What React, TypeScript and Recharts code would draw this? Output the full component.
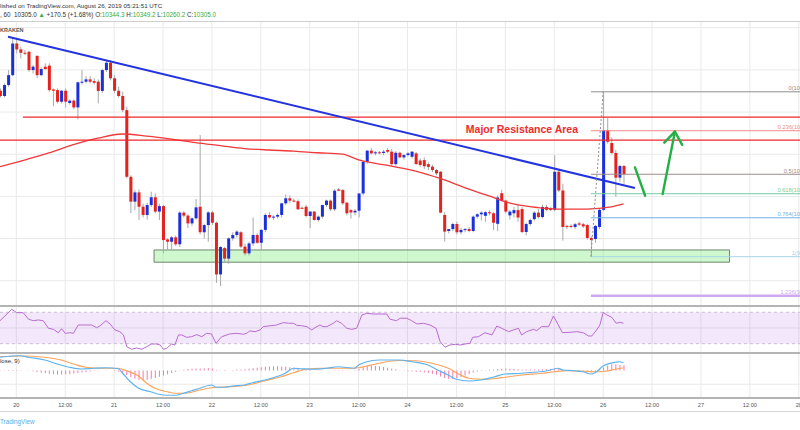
import {
  Bar,
  CartesianGrid,
  ComposedChart,
  Line,
  ReferenceArea,
  ReferenceDot,
  ReferenceLine,
  XAxis,
  YAxis,
} from 'recharts'

// hourly candles, first one is Aug 19 20:00 UTC (hour -4 from Aug 20 00:00)
const FIRST_HOUR = -4

const OPEN = [
  10701, 10676, 10728, 10775, 10925, 10897, 10881, 10886, 10799, 10866,
  10775, 10815, 10820, 10707, 10704, 10649, 10701, 10643, 10654, 10622,
  10741, 10744, 10755, 10747, 10744, 10700, 10799, 10834, 10760, 10701,
  10676, 10609, 10293, 10175, 10219, 10151, 10112, 10159, 10196, 10128,
  10154, 9996, 9985, 10006, 9973, 10123, 10109, 10072, 10096, 10151,
  10030, 10064, 10124, 10075, 9830, 9955, 9905, 10001, 10017, 10030,
  9962, 9930, 9977, 10017, 9980, 10041, 10112, 10100, 10104, 10112,
  10167, 10191, 10180, 10177, 10146, 10151, 10107, 10128, 10088, 10104,
  10159, 10180, 10139, 10233, 10230, 10170, 10135, 10124, 10132, 10214,
  10364, 10417, 10404, 10409, 10406, 10420, 10412, 10353, 10407, 10385,
  10396, 10388, 10404, 10370, 10372, 10353, 10341, 10325, 10317, 10112,
  10036, 10045, 10069, 10030, 10041, 10045, 10036, 10104, 10115, 10108,
  10125, 10120, 10070, 10215, 10180, 10110, 10120, 10135, 10140, 10031,
  10069, 10092, 10123, 10102, 10150, 10140, 10136, 10317, 10228, 10060,
  10060, 10055, 10072, 10068, 10064, 10003, 9998, 10055, 10136, 10514,
  10453, 10406, 10289, 10344.3,
]
const HIGH = [
  10712, 10736, 10799, 10949, 10949, 10910, 10894, 10889, 10823, 10870,
  10812, 10831, 10831, 10712, 10712, 10704, 10712, 10660, 10660, 10744,
  10799, 10770, 10770, 10760, 10755, 10805, 10846, 10846, 10775, 10720,
  10696, 10625, 10300, 10230, 10233, 10165, 10170, 10222, 10214, 10165,
  10160, 10001, 10012, 10015, 10130, 10130, 10115, 10100, 10188, 10491,
  10070, 10130, 10130, 10080, 9965, 9960, 10006, 10030, 10040, 10035,
  9975, 9985, 10100, 10025, 10045, 10120, 10125, 10110, 10120, 10170,
  10210, 10205, 10190, 10185, 10152, 10160, 10130, 10130, 10110, 10160,
  10185, 10185, 10235, 10240, 10235, 10175, 10140, 10140, 10215, 10370,
  10420, 10430, 10415, 10415, 10420, 10430, 10425, 10415, 10412, 10400,
  10410, 10415, 10410, 10380, 10385, 10362, 10350, 10330, 10320, 10125,
  10045, 10075, 10080, 10050, 10050, 10055, 10110, 10120, 10130, 10130,
  10135, 10125, 10205, 10232, 10185, 10135, 10150, 10165, 10150, 10075,
  10095, 10130, 10140, 10160, 10160, 10150, 10395, 10325, 10260, 10065,
  10068, 10075, 10080, 10075, 10070, 10010, 10065, 10145, 10696, 10571,
  10480, 10420, 10350, 10349.2,
]
const LOW = [
  10669, 10669, 10720, 10770, 10878, 10854, 10870, 10791, 10783, 10760,
  10770, 10800, 10696, 10628, 10641, 10641, 10622, 10635, 10613, 10565,
  10730, 10736, 10736, 10730, 10641, 10690, 10790, 10750, 10690, 10669,
  10600, 10285, 10120, 10135, 10088, 10100, 10090, 10150, 10120, 10088,
  9930, 9946, 9950, 9965, 9960, 10100, 10050, 10060, 10090, 10020,
  10000, 9985, 10065, 9790, 9775, 9890, 9880, 9990, 10005, 9955,
  9920, 9920, 9965, 9975, 9945, 10030, 10095, 10090, 10095, 10100,
  10160, 10170, 10172, 10135, 10140, 10100, 10050, 10085, 10080, 10095,
  10150, 10130, 10130, 10225, 10160, 10110, 10095, 10110, 10100, 10205,
  10355, 10400, 10395, 10400, 10395, 10405, 10345, 10345, 10380, 10375,
  10390, 10380, 10350, 10340, 10330, 10325, 10315, 10300, 10120, 9985,
  10025, 10035, 10020, 10020, 10030, 10030, 10030, 10095, 10085, 10080,
  10110, 10040, 10035, 10175, 10120, 10090, 10100, 10080, 10025, 10015,
  10060, 10085, 10095, 10095, 10130, 10130, 10130, 10220, 9990, 10045,
  10048, 10045, 10060, 10050, 9995, 9914, 9980, 10045, 10130, 10450,
  10400, 10199, 10270, 10260.2,
]
const CLOSE = [
  10676, 10728, 10775, 10925, 10897, 10881, 10878, 10799, 10815, 10775,
  10804, 10804, 10704, 10701, 10649, 10701, 10649, 10654, 10622, 10741,
  10744, 10755, 10744, 10739, 10700, 10799, 10834, 10760, 10701, 10676,
  10609, 10293, 10175, 10219, 10151, 10112, 10159, 10196, 10128, 10154,
  9993, 9985, 10006, 9973, 10123, 10109, 10072, 10096, 10148, 10030,
  10064, 10124, 10075, 9830, 9960, 9905, 10001, 10017, 10033, 9962,
  9930, 9977, 10017, 9980, 10041, 10112, 10100, 10104, 10112, 10167,
  10191, 10180, 10177, 10139, 10143, 10107, 10128, 10088, 10104, 10159,
  10180, 10139, 10227, 10227, 10167, 10120, 10124, 10132, 10214, 10364,
  10417, 10404, 10409, 10406, 10412, 10412, 10353, 10407, 10385, 10396,
  10404, 10412, 10353, 10349, 10343, 10340, 10325, 10309, 10123, 10033,
  10045, 10069, 10030, 10041, 10045, 10036, 10104, 10115, 10123, 10125,
  10120, 10075, 10195, 10180, 10128, 10128, 10135, 10100, 10031, 10069,
  10088, 10123, 10102, 10150, 10136, 10136, 10317, 10228, 10055, 10055,
  10055, 10068, 10066, 10058, 10003, 9993, 10060, 10136, 10514, 10459,
  10406, 10289, 10344, 10305,
]

// 100-period moving average, read at a few hours
const MA_POINTS: [number, number][] = [
  [-4, 10341], [2, 10372], [8, 10406], [14, 10445], [20, 10476], [26, 10496],
  [32, 10486], [38, 10472], [44, 10455], [50, 10441], [56, 10427], [62, 10420],
  [68, 10415], [74, 10407], [80, 10400], [84, 10373], [92, 10344], [98, 10320],
  [104, 10285], [110, 10242], [116, 10202], [122, 10164], [128, 10147],
  [134, 10140], [140, 10140], [146, 10150], [149, 10164],
]

const RSI_POINTS: [number, number][] = [
  [-4, 59.3], [-1.1, 73.8], [0.1, 69.5], [1.7, 69.5], [3, 61.1], [4.2, 59.3],
  [5.4, 60.2], [6.6, 59.3], [7.9, 49.6], [9.1, 48.3], [10.3, 44], [11.1, 49.1],
  [12, 43.2], [13.2, 44], [14, 43.2], [15.2, 53.8], [16.9, 53.8], [18.5, 53.8],
  [19.7, 50.4], [20.5, 52.5], [22, 59.3], [23, 55.1], [24.2, 47.5], [25.4, 45.3],
  [26.3, 41.1], [27.1, 26.2], [28.3, 22.9], [29.5, 24.5], [30.8, 22.9], [32, 26.2],
  [33.2, 29.6], [34.4, 29.6], [35.3, 28.3], [36.1, 22.9], [36.9, 24.1], [38.1, 29.6],
  [38.9, 28.3], [39.8, 41.1], [40.6, 41.1], [41.8, 38.1], [43, 38.9], [44.3, 41.5],
  [45.5, 38.9], [46.7, 43.2], [47.9, 42.4], [49, 30.5], [50.4, 38.9], [52.4, 42.4],
  [54.1, 43.2], [55.7, 42], [56.5, 43.2], [57.3, 46.2], [58.6, 45.3], [59.8, 47.5],
  [60.6, 51.7], [61.8, 52.5], [63.9, 53.8], [65.5, 56.8], [66.8, 56], [68, 56],
  [68.8, 53.4], [70, 52.9], [71.3, 51.7], [72.5, 47.5], [73.3, 50.4], [74.5, 53.8],
  [75.3, 51.7], [76.2, 51.7], [77.8, 56], [78.6, 59.3], [79.8, 56], [81.1, 49.6],
  [82.3, 48.3], [83.5, 49.6], [84.8, 66.6], [86, 68.7], [87.6, 67.8], [89.3, 67.8],
  [90.9, 67.8], [91.7, 61.1], [93.3, 59.3], [94.2, 62.4], [95.8, 62.4], [97, 59.3],
  [98.3, 55.1], [99.9, 56], [101.5, 53.8], [103, 49.6], [104, 32.6], [105.2, 25.4],
  [106.4, 28.3], [107.7, 29.2], [108.9, 28.3], [110.1, 29.6], [111.3, 30.5], [112, 38.1],
  [113.4, 38.9], [115, 44], [116.7, 41.1], [117.9, 52.5], [119.1, 49.6], [120.8, 45.3],
  [122, 47.5], [123.2, 49.6], [124, 41.1], [125.2, 45.3], [126.9, 48.3], [127.7, 46.6],
  [128.9, 51.7], [130.6, 51.7], [131.8, 65.3], [133, 53.8], [134, 44], [135.9, 44.5],
  [137.5, 45.3], [139.1, 44], [140.4, 39.8], [141.2, 39.8], [142.4, 47.5], [143.2, 53.8],
  [144, 70], [144.9, 66.6], [146.1, 63.7], [147.2, 56], [148.2, 57.3], [149, 56],
]

const MACD_POINTS: [number, number][] = [
  [-4, 53], [-1, 58], [1, 59], [3, 53], [7, 42], [10, 26], [13, 13], [16, 6], [19, 9],
  [22, 11], [25, 7], [26, -9], [28, -45], [30, -71], [33, -85], [35, -95], [37, -99],
  [39, -99], [41, -91], [43, -81], [45, -71], [48, -58], [49, -67], [51, -67], [53, -62],
  [56, -58], [58, -49], [61, -38], [63, -29], [66, -11], [68, 9], [70, 7], [73, 5],
  [76, 9], [79, 15], [83, 9], [84, 22], [86, 35], [89, 42], [94, 42], [97, 35],
  [101, 22], [103, 5], [106, -18], [108, -35], [111, -42], [114, -38], [117, -27],
  [120, -14], [124, -11], [127, -7], [130, -2], [133, 9], [134, 2], [137, -1],
  [139, -5], [141, -14], [142, -9], [144, 18], [147, 33], [148, 35], [149, 31],
]
const SIGNAL_POINTS: [number, number][] = [
  [-4, 55], [1, 58], [7, 53], [11, 42], [14, 26], [17, 13], [21, 9], [25, 9], [27, -1],
  [30, -22], [32, -51], [34, -71], [37, -85], [39, -91], [42, -90], [45, -78], [48, -69],
  [52, -65], [55, -62], [58, -54], [61, -41], [65, -25], [68, -9], [71, 5], [75, 9],
  [78, 9], [81, 9], [84, 11], [86, 18], [89, 29], [94, 40], [98, 39], [102, 29],
  [106, 9], [109, -18], [111, -31], [114, -35], [117, -33], [120, -27], [124, -18],
  [129, -11], [132, -5], [135, -1], [138, -2], [142, -5], [144, -4], [147, 5], [149, 11],
]
const HIST = [
  1, 1, 2, 2, 2, 1, 0, -1, -3, -6,
  -9, -11, -13, -15, -16, -16, -15, -14, -12, -10,
  -8, -6, -4, -2, -1, 0, 1, 0, -2, -5,
  -10, -18, -26, -33, -38, -40, -37, -34, -30, -25,
  -20, -15, -10, -5, -1, 3, 6, 7, 8, 8,
  9, 10, 8, 2, -1, -2, 0, 2, 4, 4,
  5, 7, 9, 11, 13, 15, 16, 17, 17, 16,
  15, 13, 11, 9, 7, 5, 2, 0, -1, -1,
  0, 1, 2, 2, 2, 1, 0, 2, 6, 12,
  18, 20, 19, 17, 14, 11, 8, 5, 1, -1,
  -3, -4, -5, -6, -8, -10, -13, -17, -24, -30,
  -34, -34, -31, -26, -20, -14, -8, -4, -2, 1,
  3, 4, 6, 7, 8, 7, 6, 5, 4, 4,
  4, 4, 4, 5, 5, 6, 9, 8, 4, 2,
  0, -1, -2, -3, -5, -7, -5, 2, 12, 20,
  25, 24, 22, 21,
]

const HOUR_TICKS = [0, 12, 24, 36, 48, 60, 72, 84, 96, 108, 120, 132, 144, 156, 168, 180, 192]
const TICK_LABELS = ['20', '12:00', '21', '12:00', '22', '12:00', '23', '12:00', '24', '12:00',
  '25', '12:00', '26', '12:00', '27', '12:00', '28']
const PRICE_GRID = [9700, 9800, 9900, 10000, 10100, 10200, 10300, 10400, 10500, 10600,
  10700, 10800, 10900, 11000]

// drawings
const TREND_LINE: [number, number][] = [[-2.04, 10957], [151.8, 10240]]
const RESISTANCE_LINES: [number, number][] = [[1.6, 10576], [-4, 10467]] // [start hour, price]
const SUPPORT_ZONE = { x1: 33.8, x2: 175, y1: 9888, y2: 9946 }
const FIB_RATIOS = [0, 0.236, 0.5, 0.618, 0.764, 1, 1.236]
const FIB_PRICES = [10696.0, 10511.4, 10305.0, 10212.7, 10098.6, 9914.0, 9729.4]
const FIB_COLORS = ['#8e8e8e', '#f08a8a', '#a08c8c', '#72cfa2', '#6fb4e6', '#a6d3ea', '#cfa9f0']
const FIB_LINK: [number, number][] = [[141, 9914], [144, 10696]]
const ARROWS: [number, number][][] = [
  [[151.8, 10338], [154.3, 10203]],
  [[158.6, 10211], [161.6, 10507]],
  [[159.0, 10455], [161.6, 10507]],
  [[163.4, 10444], [161.6, 10507]],
]

const X_DOMAIN: [number, number] = [-4, 192.3]
const RED = '#e5221c'
const BLUE = '#1b30dc'
const GRID = '#e9e9e9'
const FONT = '"Liberation Sans", Arial, sans-serif'

const maByHour = new Map(MA_POINTS)
const macdByHour = new Map(MACD_POINTS)
const signalByHour = new Map(SIGNAL_POINTS)

const candleRows = OPEN.map((open, i) => {
  const h = FIRST_HOUR + i
  return { h, open, high: HIGH[i], low: LOW[i], close: CLOSE[i], ma: maByHour.get(h) }
})
const rsiRows = RSI_POINTS.map(([h, rsi]) => ({ h, rsi }))
const macdRows = HIST.map((hist, i) => {
  const h = FIRST_HOUR + i
  return { h, hist, macd: macdByHour.get(h), signal: signalByHour.get(h) }
})

function Candle(props: any) {
  const { x, y, width, height, payload } = props
  if (x == null || y == null || !payload) return null
  const top = Math.min(y, y + height)
  const bottom = Math.max(y, y + height)
  const range = payload.high - payload.low
  const k = range > 0 ? (bottom - top) / range : 0
  const yOf = (v: number) => top + (payload.high - v) * k
  const yo = yOf(payload.open)
  const yc = yOf(payload.close)
  const cx = x + width / 2
  return (
    <g>
      <line x1={cx} x2={cx} y1={top} y2={bottom} stroke="#a9a9a9" strokeWidth={1} />
      <rect
        x={x}
        y={Math.min(yo, yc)}
        width={width}
        height={Math.max(1, Math.abs(yo - yc))}
        fill={payload.close >= payload.open ? BLUE : RED}
      />
    </g>
  )
}

function seg(p: [number, number][]) {
  return [{ x: p[0][0], y: p[0][1] }, { x: p[1][0], y: p[1][1] }]
}

function FibLabel({ viewBox, text, color }: any) {
  if (!viewBox) return null
  return (
    <text x={viewBox.x + 16} y={viewBox.y - 1.5} textAnchor="end" fontSize={5.7} fill={color} fontFamily={FONT}>
      {text}
    </text>
  )
}

function AreaLabel({ viewBox }: any) {
  if (!viewBox) return null
  return (
    <text x={viewBox.x} y={viewBox.y} dominantBaseline="central" fontSize={10.5} fontWeight="bold"
      fill="#ee2b2b" fontFamily={FONT}>
      Major Resistance Area
    </text>
  )
}

function Hline({ top, color = '#b4b4b4', h = 2 }: { top: number; color?: string; h?: number }) {
  return <div style={{ position: 'absolute', left: 0, top, width: 800, height: h, background: color }} />
}

// small text drawn at double size and scaled down, so tiny sizes keep their widths
function Tiny({ x, y, size, color = '#333', bold = false, children }: any) {
  return (
    <div style={{
      position: 'absolute', left: x, top: y, fontSize: size * 2, lineHeight: `${size * 2}px`,
      transform: 'scale(0.5)', transformOrigin: '0 0', whiteSpace: 'pre', color,
      fontWeight: bold ? 'bold' : 'normal',
    }}>
      {children}
    </div>
  )
}

export default function App() {
  const green = '#2fae3c'
  return (
    <div style={{ position: 'fixed', left: 0, top: 0, width: 800, height: 430, overflow: 'hidden', background: '#fff', fontFamily: FONT }}>
      <Tiny x={0} y={2.9} size={6.2}>lished on TradingView.com, August 26, 2019 05:21:51 UTC</Tiny>
      <Tiny x={0} y={11.8} size={6.3}>
        {', 60  10305.0 '}
        <span style={{ color: green }}>▲</span>
        {' +170.5 (+1.68%) O:'}
        <span style={{ color: green }}>10344.3</span>
        {' H:'}
        <span style={{ color: green }}>10349.2</span>
        {' L:'}
        <span style={{ color: green }}>10260.2</span>
        {' C:'}
        <span style={{ color: green }}>10305.0</span>
      </Tiny>

      <div style={{ position: 'absolute', left: 0, top: 22 }}>
        <ComposedChart width={800} height={283} data={candleRows} margin={{ top: 0, right: 0, bottom: 0, left: 0 }}>
          <CartesianGrid stroke={GRID} verticalValues={HOUR_TICKS} horizontalValues={PRICE_GRID} />
          <XAxis type="number" dataKey="h" domain={X_DOMAIN} hide allowDataOverflow />
          <YAxis type="number" domain={[9685, 11027]} hide allowDataOverflow />
          <ReferenceArea {...SUPPORT_ZONE} fill="#8fee8a" fillOpacity={0.42} stroke="#6e866e" strokeWidth={1} ifOverflow="visible" />
          <Bar dataKey={(d: any) => [d.low, d.high]} barSize={3} shape={<Candle />} isAnimationActive={false} />
          <Line dataKey="ma" type="monotone" stroke="#f2383a" strokeWidth={1.3} dot={false} connectNulls isAnimationActive={false} />
          {RESISTANCE_LINES.map(([start, price]) => (
            <ReferenceLine key={price} segment={[{ x: start, y: price }, { x: 192.3, y: price }]} stroke="#f0262c" strokeWidth={1.3} ifOverflow="visible" />
          ))}
          <ReferenceLine segment={seg(TREND_LINE)} stroke="#2333df" strokeWidth={2} ifOverflow="visible" />
          {FIB_PRICES.map((price, i) => (
            <ReferenceLine key={'fib' + i} segment={[{ x: 141, y: price }, { x: 192.3, y: price }]}
              stroke={FIB_COLORS[i]} strokeWidth={i === 6 ? 2.5 : 1} ifOverflow="visible" />
          ))}
          {FIB_PRICES.map((price, i) => (
            <ReferenceDot key={'fl' + i} x={192.3} y={price} r={0.01} fill="none" stroke="none" ifOverflow="visible"
              label={<FibLabel text={`${FIB_RATIOS[i]}(${price.toFixed(1)})`} color={FIB_COLORS[i]} />} />
          ))}
          <ReferenceLine segment={seg(FIB_LINK)} stroke="#8f8f8f" strokeDasharray="2 2" ifOverflow="visible" />
          {ARROWS.map((a, i) => (
            <ReferenceLine key={'ar' + i} segment={seg(a)} stroke="#25b046" strokeWidth={2.4} strokeLinecap="round" ifOverflow="visible" />
          ))}
          <ReferenceDot x={110.3} y={10519} r={0.01} fill="none" stroke="none" ifOverflow="visible" label={<AreaLabel />} />
        </ComposedChart>
      </div>
      <Tiny x={0} y={27} size={5.5} color="#555" bold>KRAKEN</Tiny>

      <div style={{ position: 'absolute', left: 0, top: 306 }}>
        <ComposedChart width={800} height={46} data={rsiRows} margin={{ top: 0, right: 0, bottom: 0, left: 0 }}>
          <CartesianGrid stroke={GRID} verticalValues={HOUR_TICKS} horizontalValues={[50]} />
          <XAxis type="number" dataKey="h" domain={X_DOMAIN} hide allowDataOverflow />
          <YAxis type="number" domain={[19.4, 78]} hide allowDataOverflow />
          <ReferenceArea y1={30} y2={70} fill="#a040e0" fillOpacity={0.12} stroke="none" />
          <ReferenceLine y={70} stroke="#c8bfd0" strokeDasharray="3 3" />
          <ReferenceLine y={30} stroke="#c8bfd0" strokeDasharray="3 3" />
          <Line dataKey="rsi" type="linear" stroke="#b96bd0" strokeWidth={1} dot={false} isAnimationActive={false} />
        </ComposedChart>
      </div>

      <div style={{ position: 'absolute', left: 0, top: 352 }}>
        <ComposedChart width={800} height={60} data={macdRows} margin={{ top: 0, right: 0, bottom: 0, left: 0 }}>
          <CartesianGrid stroke={GRID} verticalValues={HOUR_TICKS} horizontalValues={[0, -55]} />
          <XAxis type="number" dataKey="h" domain={X_DOMAIN} allowDataOverflow ticks={HOUR_TICKS} interval={0}
            tickFormatter={(v: number) => TICK_LABELS[HOUR_TICKS.indexOf(v)]}
            height={14} tickLine={false} tickSize={0} tickMargin={5}
            axisLine={{ stroke: '#b4b4b4', strokeWidth: 2 }}
            tick={{ fontSize: 5.6, fill: '#555', fontFamily: FONT }} />
          <YAxis type="number" domain={[-110, 74]} hide allowDataOverflow />
          <Bar dataKey="hist" barSize={1} fill="#f27aa8" isAnimationActive={false} />
          <Line dataKey="signal" type="monotone" stroke="#fba45c" strokeWidth={1.2} dot={false} connectNulls isAnimationActive={false} />
          <Line dataKey="macd" type="monotone" stroke="#5db3f0" strokeWidth={1.2} dot={false} connectNulls isAnimationActive={false} />
        </ComposedChart>
      </div>
      <Tiny x={0} y={358} size={6}>lose, 9)</Tiny>

      <Hline top={21} color="#cfcfcf" h={1} />
      <Hline top={304.5} />
      <Hline top={351.5} />
      <Hline top={411} color="#d6d6d6" h={1} />
      <Tiny x={0} y={418.5} size={6.3} color="#55aee6">TradingView</Tiny>
    </div>
  )
}
